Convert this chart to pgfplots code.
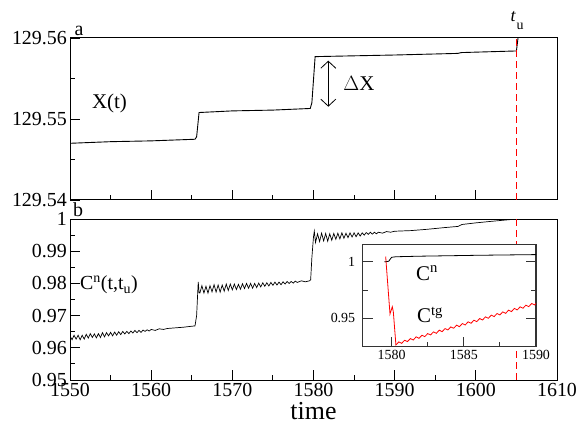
\documentclass[border=0pt]{standalone}
\usepackage{fontspec}
\setmainfont{Liberation Serif}
\usepackage{pgfplots}
\pgfplotsset{compat=1.18}
\usetikzlibrary{arrows.meta}
\newcommand\fs[1]{\fontsize{#1}{#1}\selectfont}

\pgfplotsset{
  panel/.style={
    scale only axis, width=487bp,
    xmin=1550, xmax=1610,
    xtick={1550,1560,1570,1580,1590,1600,1610},
    minor x tick num=1, minor y tick num=1,
    tick pos=left, tick align=inside,
    major tick length=10bp, minor tick length=5bp,
    axis line style={line width=1bp},
    tick style={black, line width=0.9bp},
    scaled ticks=false,
    tick label style={font=\fs{20}},
    yticklabel style={inner sep=3bp},
    /pgf/number format/assume math mode=true,
  },
}
\tikzset{tu/.style={red, line width=1.5bp, dash pattern=on 7bp off 4bp}}

\begin{document}
\begin{tikzpicture}
\useasboundingbox (0,0) rectangle (579bp,426bp);

% panel a
\begin{axis}[panel, at={(70bp,226bp)}, anchor=south west, height=162bp,
  ymin=129.54, ymax=129.56,
  ytick={129.54,129.55,129.56}, yticklabels={129.54,129.55,129.56},
  xticklabels={}]
\addplot[black, line width=0.9bp] coordinates {
  (1550,129.5470) (1555,129.5472) (1560,129.5473) (1565.4,129.5475)
  (1565.6,129.5478) (1565.9,129.5508) (1570,129.5510) (1575,129.5511)
  (1579.6,129.5513) (1579.8,129.5520) (1580.2,129.5577) (1585,129.5578)
  (1590,129.5579) (1597.8,129.5581) (1598.2,129.5582) (1605,129.5584)
  (1605.2,129.5600) (1605.3,129.5610)
};
\draw[tu] (axis cs:1605,129.54) -- (axis cs:1605,129.56);
\end{axis}

% panel b
\begin{axis}[panel, at={(70bp,46bp)}, anchor=south west, height=161bp,
  ymin=0.95, ymax=1,
  ytick={0.95,0.96,0.97,0.98,0.99,1}, yticklabels={0.95,0.96,0.97,0.98,0.99,1},
  xticklabels={1550,1560,1570,1580,1590,1600,1610}]
\addplot[black, line width=0.7bp] coordinates {
  (1550.00,0.9637) (1550.25,0.9625) (1550.50,0.9639) (1550.75,0.9627)
  (1551.00,0.9639) (1551.25,0.9625) (1551.50,0.9639) (1551.75,0.9627)
  (1552.00,0.9642) (1552.25,0.9630) (1552.50,0.9644) (1552.75,0.9632)
  (1553.00,0.9643) (1553.25,0.9631) (1553.50,0.9644) (1553.75,0.9632)
  (1554.00,0.9647) (1554.25,0.9634) (1554.50,0.9647) (1554.75,0.9637)
  (1555.00,0.9648) (1555.25,0.9637) (1555.50,0.9649) (1555.75,0.9639)
  (1556.00,0.9650) (1556.25,0.9641) (1556.50,0.9651) (1556.75,0.9643)
  (1557.00,0.9651) (1557.25,0.9644) (1557.50,0.9652) (1557.75,0.9646)
  (1558.00,0.9654) (1558.25,0.9647) (1558.50,0.9654) (1558.75,0.9648)
  (1559.00,0.9655) (1559.25,0.9651) (1559.50,0.9656) (1559.75,0.9652)
  (1560.00,0.9657) (1560.50,0.9654) (1561.00,0.9659) (1561.50,0.9657)
  (1562.00,0.9660) (1563.00,0.9662) (1564.00,0.9664) (1565.00,0.9667)
  (1565.40,0.9668) (1565.60,0.9700) (1565.80,0.9805) (1565.90,0.9772)
  (1566.00,0.9770) (1566.25,0.9793) (1566.50,0.9770) (1566.75,0.9791)
  (1567.00,0.9770) (1567.25,0.9793) (1567.50,0.9774) (1567.75,0.9796)
  (1568.00,0.9773) (1568.25,0.9795) (1568.50,0.9773) (1568.75,0.9795)
  (1569.00,0.9776) (1569.25,0.9798) (1569.50,0.9778) (1569.75,0.9798)
  (1570.00,0.9780) (1570.25,0.9798) (1570.50,0.9781) (1570.75,0.9797)
  (1571.00,0.9782) (1571.25,0.9799) (1571.50,0.9784) (1571.75,0.9800)
  (1572.00,0.9785) (1572.25,0.9800) (1572.50,0.9785) (1572.75,0.9800)
  (1573.00,0.9787) (1573.25,0.9801) (1573.50,0.9789) (1573.75,0.9802)
  (1574.00,0.9791) (1574.25,0.9802) (1574.50,0.9792) (1574.75,0.9803)
  (1575.00,0.9794) (1575.25,0.9804) (1575.50,0.9795) (1575.75,0.9804)
  (1576.00,0.9796) (1576.25,0.9805) (1576.50,0.9798) (1576.75,0.9806)
  (1577.00,0.9800) (1577.25,0.9806) (1577.50,0.9801) (1577.75,0.9807)
  (1578.00,0.9803) (1578.50,0.9808) (1579.00,0.9805) (1579.50,0.9808)
  (1579.65,0.9811) (1579.80,0.9880) (1580.00,0.9945) (1580.10,0.9962)
  (1580.25,0.9927) (1580.50,0.9954) (1580.75,0.9930) (1581.00,0.9956)
  (1581.25,0.9932) (1581.50,0.9955) (1581.75,0.9931) (1582.00,0.9954)
  (1582.25,0.9934) (1582.50,0.9955) (1582.75,0.9937) (1583.00,0.9956)
  (1583.25,0.9938) (1583.50,0.9957) (1583.75,0.9940) (1584.00,0.9956)
  (1584.25,0.9942) (1584.50,0.9957) (1584.75,0.9944) (1585.00,0.9957)
  (1585.25,0.9945) (1585.50,0.9957) (1585.75,0.9947) (1586.00,0.9957)
  (1586.25,0.9950) (1586.50,0.9958) (1586.75,0.9952) (1587.00,0.9959)
  (1587.25,0.9953) (1587.50,0.9959) (1587.75,0.9954) (1588.00,0.9959)
  (1588.50,0.9956) (1589.00,0.9961) (1589.50,0.9959) (1590.00,0.9962)
  (1592.00,0.9964) (1594.00,0.9968) (1596.00,0.9973) (1597.80,0.9977)
  (1598.30,0.9983) (1600.00,0.9988) (1602.00,0.9993) (1604.60,0.9999)
  (1605.00,1.0000)
};
\draw[tu] (axis cs:1605,0.95) -- (axis cs:1605,1);
\end{axis}

% inset
\begin{axis}[scale only axis, width=173.3bp, height=102.4bp,
  at={(362.7bp,79.3bp)}, anchor=south west,
  axis background/.style={fill=white},
  xmin=1578, xmax=1590, ymin=0.925, ymax=1.0155,
  xtick={1580,1585,1590}, xticklabels={1580,1585,1590}, minor x tick num=1,
  ytick={0.95,1}, yticklabels={0.95,1}, minor ytick={0.975},
  xtick pos=left, ytick pos=both, tick align=inside,
  major tick length=10bp, minor tick length=5bp,
  axis line style={line width=1.4bp, black!80},
  tick style={black!80, line width=1bp},
  tick label style={font=\fs{14}},
  yticklabel style={xshift=-4bp},
  /pgf/number format/assume math mode=true]
\addplot[black, line width=0.8bp] coordinates {
  (1579.5,1.0000) (1579.8,1.0005) (1580.0,1.0040) (1580.3,1.0045)
  (1582,1.0050) (1584,1.0054) (1586,1.0058) (1588,1.0061) (1590,1.0064)
};
\addplot[red, line width=0.8bp] coordinates {
  (1579.59,1.0047) (1579.89,0.9539) (1580.05,0.9603) (1580.12,0.9559)
  (1580.3,0.9265) (1580.5,0.9292) (1580.7,0.9280) (1580.9,0.9307)
  (1581.1,0.9295) (1581.3,0.9322) (1581.5,0.9309) (1581.7,0.9337)
  (1581.9,0.9324) (1582.1,0.9351) (1582.3,0.9339) (1582.5,0.9366)
  (1582.7,0.9354) (1582.9,0.9381) (1583.1,0.9368) (1583.3,0.9396)
  (1583.5,0.9383) (1583.7,0.9410) (1583.9,0.9398) (1584.1,0.9425)
  (1584.3,0.9413) (1584.5,0.9440) (1584.7,0.9427) (1584.9,0.9455)
  (1585.1,0.9442) (1585.3,0.9470) (1585.5,0.9457) (1585.7,0.9484)
  (1585.9,0.9472) (1586.1,0.9499) (1586.3,0.9486) (1586.5,0.9514)
  (1586.7,0.9501) (1586.9,0.9529) (1587.1,0.9516) (1587.3,0.9543)
  (1587.5,0.9531) (1587.7,0.9558) (1587.9,0.9545) (1588.1,0.9573)
  (1588.3,0.9560) (1588.5,0.9588) (1588.7,0.9575) (1588.9,0.9602)
  (1589.1,0.9590) (1589.3,0.9617) (1589.5,0.9604) (1589.7,0.9632)
  (1589.9,0.9619) (1590.0,0.9633)
};
\end{axis}

% labels
\node[anchor=base, font=\fs{20}] at (79bp,390bp) {a};
\node[anchor=base, font=\fs{20}] at (78bp,209bp) {b};
\node[font=\fs{21}] at (109.5bp,323bp) {X(t)};
\node[font=\fs{21}] at (359bp,343bp) {$\Delta$X};
\draw[{Straight Barb[length=7bp,width=15bp]}-{Straight Barb[length=7bp,width=15bp]}, line width=0.8bp]
  (328.3bp,365.3bp) -- (328.3bp,319.3bp);
\node[font=\fs{18}\itshape] at (513bp,409bp) {t};
\node[font=\fs{14}] at (520bp,400bp) {u};
\node[anchor=west, font=\fs{20}, inner sep=0pt] at (80bp,141bp)
  {C\textsuperscript{n}(t,t\textsubscript{u})};
\node[font=\fs{21}] at (427bp,153bp) {C\textsuperscript{n}};
\node[font=\fs{21}] at (430bp,111bp) {C\textsuperscript{tg}};
\node[anchor=base, font=\fs{26}] at (313.5bp,7bp) {time};
\end{tikzpicture}
\end{document}
